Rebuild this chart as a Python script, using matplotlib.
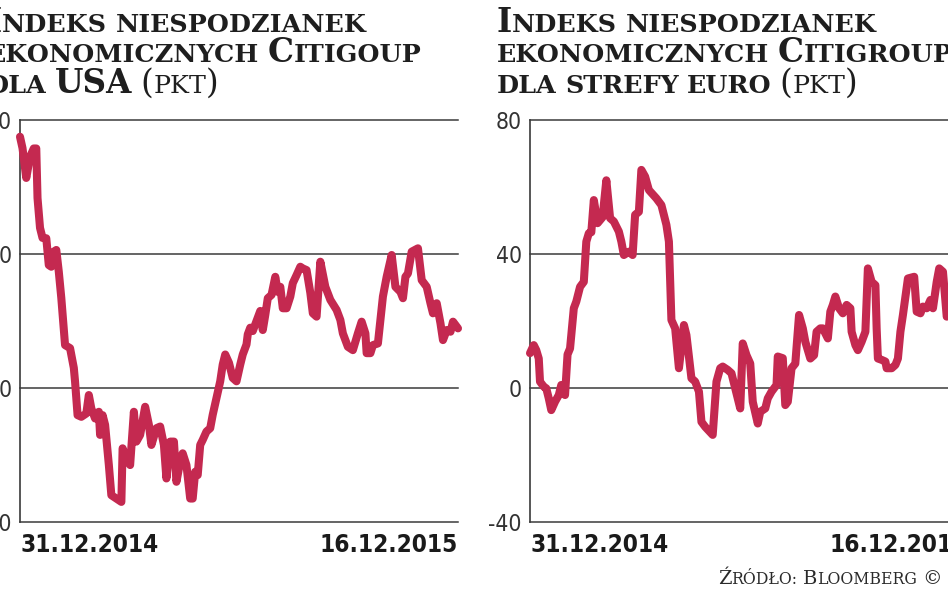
import numpy as np
import matplotlib
matplotlib.use('Agg')
import matplotlib.pyplot as plt

# dni od 31.12.2014, wartosc indeksu (pkt)
usa_dni = [0, 2, 5, 8, 11, 13, 14, 16, 18, 21, 23, 25, 27, 29, 31, 33, 36, 40, 43, 44,
           46, 49, 53, 55, 57, 60, 63, 64, 66, 68, 71, 73, 77, 81, 82, 85, 88, 91, 93, 96,
           100, 103, 105, 109, 112, 115, 117, 120, 123, 125, 128, 130, 133, 136, 138, 140,
           142, 144, 146, 149, 152, 154, 157, 160, 162, 164, 167, 170, 173, 176, 178, 181,
           182, 184, 186, 189, 192, 194, 196, 198, 201, 204, 206, 208, 210, 213, 216, 218,
           221, 224, 226, 229, 232, 234, 237, 240, 244, 248, 253, 256, 258, 262, 266, 270,
           273, 276, 277, 280, 282, 286, 290, 293, 297, 300, 304, 306, 308, 310, 313, 318,
           321, 325, 328, 330, 333, 336, 338, 341, 344, 346, 350]
usa_pkt = [75.0, 71.6, 62.7, 69.0, 71.5, 71.5, 56.7, 47.8, 44.8, 44.7, 36.7, 36.2, 40.7, 41.2,
           34.7, 26.9, 12.8, 11.9, 6.0, 1.9, -8.1, -8.6, -7.6, -2.1, -6.1, -9.1, -7.1, -14.0,
           -8.1, -11.0, -23.0, -32.0, -33.0, -34.0, -18.0, -21.0, -23.0, -7.1, -16.0, -14.0,
           -5.6, -11.0, -17.0, -12.0, -11.5, -17.0, -27.0, -16.0, -16.0, -28.0, -22.0, -19.5,
           -23.0, -33.0, -33.0, -25.0, -26.0, -17.0, -15.5, -13.0, -12.0, -8.0, -3.0, 2.0,
           7.0, 10.0, 7.5, 3.0, 2.0, 7.0, 10.0, 13.0, 16.0, 18.0, 17.0, 20.0, 23.0, 17.3,
           21.8, 26.8, 27.8, 33.2, 28.7, 30.2, 23.8, 23.8, 27.3, 31.3, 33.7, 36.2, 35.7, 35.2,
           28.4, 22.3, 21.3, 37.7, 30.2, 26.3, 23.3, 20.3, 16.3, 12.3, 11.3, 16.3, 19.8, 16.3,
           10.4, 10.4, 12.8, 13.3, 27.3, 33.2, 39.7, 30.2, 28.7, 26.8, 33.2, 34.2, 40.7, 41.7,
           32.2, 30.2, 25.3, 22.3, 25.3, 19.3, 14.3, 17.3, 16.8, 19.8, 17.8]

euro_dni = [0, 3, 5, 7, 8, 11, 13, 15, 17, 20, 23, 25, 28, 30, 32, 35, 37, 40, 43, 45,
            47, 49, 51, 54, 58, 61, 64, 67, 71, 73, 75, 79, 82, 84, 87, 89, 92, 95, 101,
            105, 109, 111, 113, 116, 119, 123, 125, 129, 132, 135, 137, 140, 146, 149, 152,
            154, 158, 161, 164, 166, 168, 170, 173, 176, 178, 182, 184, 188, 190, 193, 197,
            198, 202, 204, 206, 209, 212, 215, 218, 220, 224, 227, 229, 232, 234, 238, 240,
            242, 244, 247, 250, 253, 256, 257, 260, 262, 265, 268, 270, 273, 276, 277, 278,
            281, 284, 285, 289, 292, 294, 296, 298, 302, 307, 309, 312, 314, 317, 320, 322,
            325, 327, 330, 333]
euro_pkt = [10.4, 12.8, 11.3, 8.8, 1.9, 0.4, -0.1, -3.1, -6.6, -4.1, -2.1, 0.9, -2.1, 10.0,
            11.8, 23.8, 25.8, 30.2, 31.7, 43.7, 46.2, 46.5, 56.1, 49.2, 51.0, 62.0, 50.7, 49.7,
            46.7, 43.7, 39.7, 40.7, 39.7, 51.7, 52.6, 65.1, 63.1, 59.1, 56.6, 54.6, 48.7, 43.7,
            20.3, 17.8, 5.9, 18.8, 15.8, 2.9, 1.9, -1.1, -10.1, -11.6, -14.0, 1.9, 5.9, 6.4,
            5.4, 4.4, -0.1, -3.1, -6.1, 13.3, 9.8, 7.3, -4.1, -10.6, -7.1, -6.1, -3.1, -1.1,
            0.9, 9.4, 8.9, -5.1, -4.1, 5.9, 7.3, 21.8, 17.8, 13.8, 8.8, 9.8, 16.8, 17.8, 17.8,
            14.8, 22.8, 24.8, 27.3, 23.8, 22.3, 24.8, 23.8, 16.8, 12.8, 11.3, 13.8, 16.8, 35.7,
            31.7, 30.7, 17.8, 8.8, 8.4, 7.9, 5.9, 5.9, 6.9, 8.8, 16.8, 21.8, 32.7, 33.2, 22.8,
            22.3, 24.3, 23.8, 26.3, 23.8, 31.7, 35.7, 34.7, 21.3]

y_ticks = [-40, 0, 40, 80]
x_labels = ['31.12.2014', '16.12.2015']
x_days = [0, 350]

W, H = 948, 593
fig = plt.figure(figsize=(W / 100, H / 100), dpi=100)
RED = '#C42950'


def panel(left_px, dni, pkt):
    ax = fig.add_axes([left_px / W, (H - 522) / H, 438 / W, 402 / H])
    for v in y_ticks:
        ax.axhline(v, color='#3a3a3a', lw=1.1, clip_on=False, zorder=1)
    ax.plot(dni, pkt, color=RED, lw=5.8, solid_joinstyle='round',
            solid_capstyle='round', clip_on=False, zorder=3)
    ax.set_xlim(0, 350)
    ax.set_ylim(-40, 80)
    for s in ['top', 'right', 'bottom']:
        ax.spines[s].set_visible(False)
    ax.spines['left'].set_color('#3a3a3a')
    ax.spines['left'].set_linewidth(1.2)
    ax.set_yticks(y_ticks)
    ax.set_yticklabels([str(v) for v in y_ticks], fontsize=16.5, color='#333333',
                       family='DejaVu Sans', fontstretch='condensed')
    ax.set_xticks(x_days)
    ax.set_xticklabels(x_labels, fontsize=17.5, color='#1a1a1a', fontweight='semibold',
                       family='DejaVu Sans', fontstretch='condensed')
    lbl = ax.get_xticklabels()
    lbl[0].set_ha('left')
    lbl[1].set_ha('right')
    ax.tick_params(length=0)
    ax.tick_params(axis='y', pad=6)
    ax.tick_params(axis='x', pad=8)
    ax.set_facecolor('none')
    return ax


panel(20, usa_dni, usa_pkt)
panel(530, euro_dni, euro_pkt)

renderer = fig.canvas.get_renderer()


def smallcaps(x, y, parts, color='#1e1e1e', family='DejaVu Serif'):
    # x, y w pikselach od lewego gornego rogu, y = linia bazowa
    for txt, size, weight in parts:
        if txt == ' ':
            x += size * 100 / 72 * 0.32
            continue
        t = fig.text(x / W, 1 - y / H, txt, fontsize=size, fontweight=weight,
                     family=family, color=color, va='baseline', ha='left')
        x += t.get_window_extent(renderer).width


B, S = 23.5, 18.3
sp = (' ', S, 'bold')

smallcaps(-13, 32, [('I', B, 'bold'), ('NDEKS', S, 'bold'), sp, ('NIESPODZIANEK', S, 'bold')])
smallcaps(-13, 62, [('EKONOMICZNYCH', S, 'bold'), sp, ('C', B, 'bold'), ('ITIGOUP', S, 'bold')])
smallcaps(-13, 93, [('DLA', S, 'bold'), sp, ('USA', B, 'bold'), sp,
                    ('(', B, 'normal'), ('PKT', S, 'normal'), (')', B, 'normal')])

smallcaps(497, 32, [('I', B, 'bold'), ('NDEKS', S, 'bold'), sp, ('NIESPODZIANEK', S, 'bold')])
smallcaps(497, 62, [('EKONOMICZNYCH', S, 'bold'), sp, ('C', B, 'bold'), ('ITIGROUP', S, 'bold')])
smallcaps(497, 93, [('DLA', S, 'bold'), sp, ('STREFY', S, 'bold'), sp, ('EURO', S, 'bold'), sp,
                    ('(', B, 'normal'), ('PKT', S, 'normal'), (')', B, 'normal')])

smallcaps(718, 584, [('Ź', 14, 'normal'), ('RÓDŁO:', 11.3, 'normal'), (' ', 11.3, 'normal'),
                     ('B', 14, 'normal'), ('LOOMBERG', 11.3, 'normal'), (' ', 11.3, 'normal'),
                     ('©', 14, 'normal')], color='#2a2a2a')

fig.savefig('out.png', dpi=100)
